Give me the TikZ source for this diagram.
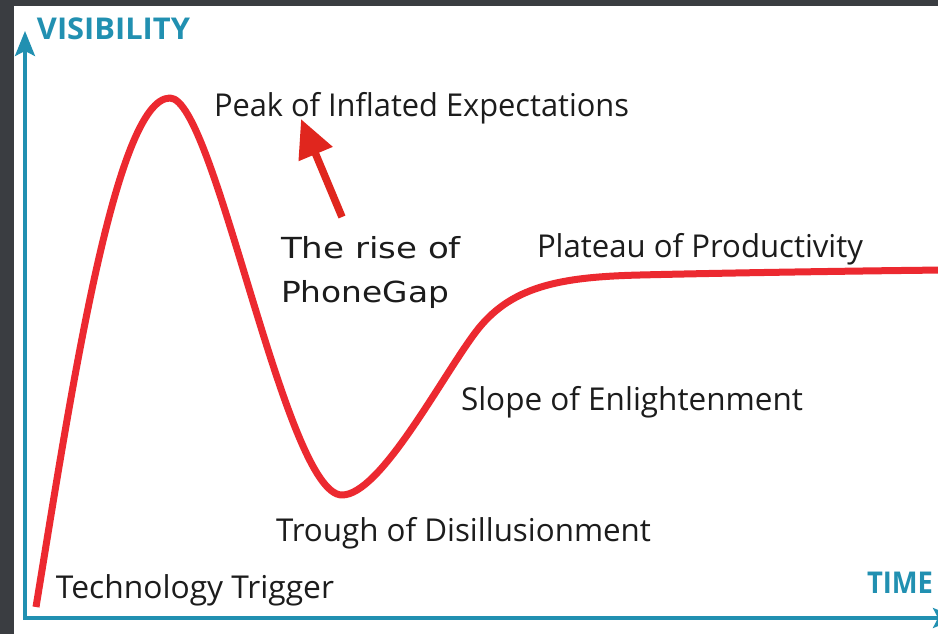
\documentclass[tikz,border=0pt]{standalone}
\usepackage{fontspec}
\usepackage{graphicx}
\setmainfont{Open Sans}
\newfontfamily\dejavu{DejaVu Sans}
\usetikzlibrary{arrows.meta}
\definecolor{bgdark}{HTML}{3A3D41}
\definecolor{axisteal}{HTML}{2190B1}
\definecolor{curvered}{HTML}{EC2930}
\definecolor{arrowred}{HTML}{E0261E}
\definecolor{ink}{HTML}{1C1C1C}
\newcommand\fitw[2]{\resizebox{#1}{\height}{#2}}
\begin{document}
\begin{tikzpicture}[x=1pt,y=-1pt,
  lbl/.style={anchor=base west, inner sep=0pt, outer sep=0pt, text=ink, font=\fontsize{31.5}{38}\selectfont},
  risetxt/.style={anchor=base west, inner sep=0pt, outer sep=0pt, text=ink, font=\dejavu\fontsize{29}{34}\selectfont},
  axlbl/.style={anchor=base west, inner sep=0pt, outer sep=0pt, text=axisteal, font=\bfseries\fontsize{30}{36}\selectfont},
  axisline/.style={draw=axisteal, line width=3.2pt},
  hype/.style={draw=curvered, line width=7pt, line join=round},
  pointer/.style={draw=arrowred, line width=7.5pt, -{Triangle[length=38pt 0, width=35pt 0]}}]
\useasboundingbox (0,0) rectangle (938,634);
\clip (0,0) rectangle (938,634);
\fill[bgdark] (0,0) rectangle (938,634);
\fill[white] (14,6) rectangle (938,634);

% axes
\coordinate (origin) at (25,618);
\coordinate (ytip) at (25,31);
\coordinate (xtip) at (958,618);
\draw[axisline, -{Stealth[length=25pt 0, width=20pt 0, inset=5pt 0]}] ([yshift=1.6pt]origin) -- (ytip);
\draw[axisline, -{Stealth[length=25pt 0, width=20pt 0, inset=5pt 0]}] ([xshift=-1.6pt]origin) -- (xtip);
\node[axlbl] (vis) at (37,40) {\fitw{153pt}{VISIBILITY}};
\node[axlbl] (time) at (867,593) {\fitw{66pt}{TIME}};

% hype curve
\coordinate (start) at (36,607);
\coordinate (peak) at (170,98);
\coordinate (trough) at (342,495);
\coordinate (slopept) at (475,333);
\coordinate (plat) at (640,275);
\coordinate (finish) at (945,270);
\draw[hype] (start) .. controls (70,400) and (115,98) .. (peak)
  .. controls (215,98) and (285,495) .. (trough)
  .. controls (380,495) and (440,380) .. (slopept)
  .. controls (510,286) and (560,277) .. (plat)
  .. controls (720,273) and (850,271) .. (finish);

% labels
\node[lbl] (peaklbl) at (214,117) {\fitw{415pt}{Peak of Inflated Expectations}};
\node[lbl] (plateau) at (537,257) {\fitw{326pt}{Plateau of Productivity}};
\node[lbl] (slope) at (461,410) {\fitw{342pt}{Slope of Enlightenment}};
\node[lbl] (troughlbl) at (276,541) {\fitw{375pt}{Trough of Disillusionment}};
\node[lbl] (trigger) at (56,598) {\fitw{278pt}{Technology Trigger}};

\node[risetxt] (rise1) at (281,258) {\fitw{180pt}{The rise of}};
\node[risetxt] (rise2) at (281,302) {\fitw{168pt}{PhoneGap}};

\coordinate (arrtail) at (342,217);
\coordinate (arrtip) at (301,119);
\draw[pointer] (arrtail) -- (arrtip);
\end{tikzpicture}
\end{document}
